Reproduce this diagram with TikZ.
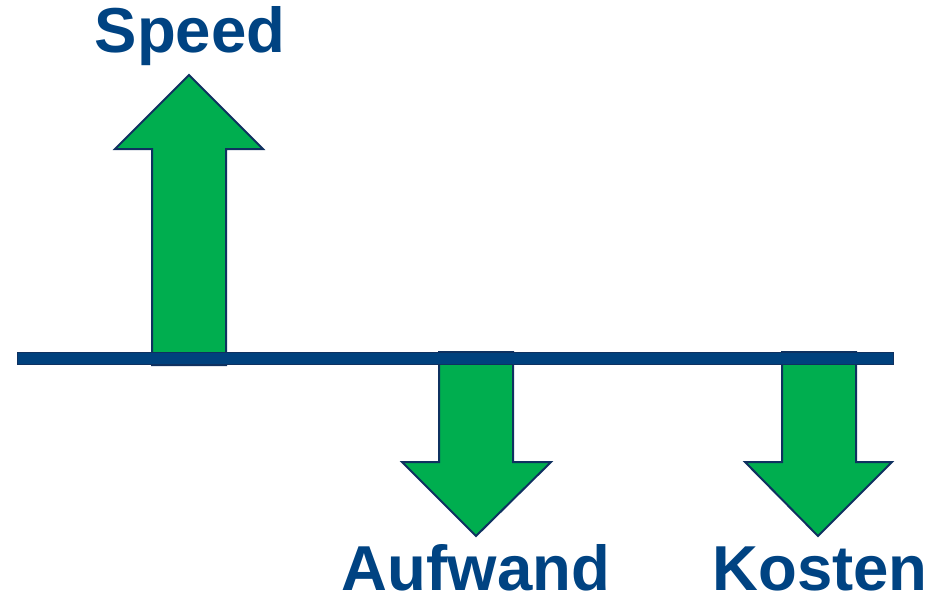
\documentclass[tikz,border=0pt]{standalone}
\usepackage{fontspec}
\setmainfont{Liberation Sans}
\definecolor{txtblue}{HTML}{004382}
\definecolor{barblue}{HTML}{00417D}
\definecolor{navy}{HTML}{0F3160}
\definecolor{arrgreen}{HTML}{00AE4F}
\tikzset{
  bigarrow/.style={fill=arrgreen, draw=navy, line width=2pt, line join=miter},
  lbl/.style={text=txtblue, font=\bfseries\fontsize{63.5}{70}\selectfont, anchor=base, inner sep=0pt},
  bar/.style={fill=barblue, draw=navy, line width=1pt}
}
\begin{document}
\begin{tikzpicture}[x=1pt,y=-1pt]
\useasboundingbox (0,0) rectangle (940,595);
% arrows
\draw[bigarrow] (152,365) -- (152,149) -- (115,149) -- (189,75) -- (263,149) -- (226,149) -- (226,365) -- cycle;
\draw[bigarrow] (439,352) -- (439,462) -- (402,462) -- (476,536) -- (551,462) -- (513,462) -- (513,352) -- cycle;
\draw[bigarrow] (782,352) -- (782,462) -- (745,462) -- (818,536) -- (892,462) -- (856,462) -- (856,352) -- cycle;
% axis
\draw[bar] (17,352) rectangle (893,364);
% labels
\node[lbl] (speed) at (190,52) {Speed};
\node[lbl, text depth=0pt] (aufwand) at (476,590) {Aufwand};
\node[lbl, text depth=0pt] (kosten) at (820,590) {Kosten};
\end{tikzpicture}
\end{document}
